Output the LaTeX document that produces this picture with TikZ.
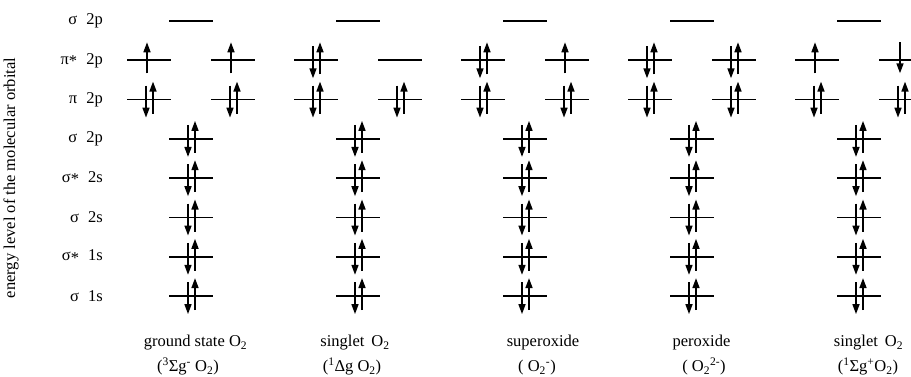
\documentclass[tikz,border=0pt]{standalone}
\usepackage{fontspec}
\setmainfont{Liberation Serif}
\usetikzlibrary{arrows.meta}
\newcommand{\orbempty}[2]{\draw[lvl] (#1-22,#2) -- (#1+22,#2);}
\newcommand{\orbpair}[2]{\draw[lvl] (#1-22,#2) -- (#1+22,#2);
  \draw[spin] (#1-3,#2-14) -- (#1-3,#2+18);
  \draw[spin] (#1+4,#2+14) -- (#1+4,#2-18);}
\newcommand{\orbup}[2]{\draw[lvl] (#1-22,#2) -- (#1+22,#2);
  \draw[spin] (#1-2,#2+13) -- (#1-2,#2-18);}
\newcommand{\orbdown}[2]{\draw[lvl] (#1-22,#2) -- (#1+22,#2);
  \draw[spin] (#1-1,#2-18) -- (#1-1,#2+13);}
\newcommand{\mystar}{\raisebox{-0.35ex}{*}}
\newcommand{\gap}{\hspace{0.55em}}
\begin{document}
\begin{tikzpicture}[x=1pt,y=-1pt,
  lvl/.style={line width=1.7pt},
  spin/.style={line width=1.6pt,-{Triangle[width=7pt,length=10pt]}},
  lab/.style={font=\fontsize{16.5}{19}\selectfont,inner sep=0pt},
  rowlab/.style={lab,anchor=east},
  mollab/.style={lab,anchor=base}]
\useasboundingbox (0,0) rectangle (911,376);
% row labels
\node[rowlab] (r1) at (103,21) {σ\gap 2p};
\node[rowlab] (r2) at (103,60.3) {π\mystar\gap 2p};
\node[rowlab] (r3) at (103,99.6) {π\gap 2p};
\node[rowlab] (r4) at (103,138.9) {σ\gap 2p};
\node[rowlab] (r5) at (103,178.2) {σ\mystar\gap 2s};
\node[rowlab] (r6) at (103,217.5) {σ\gap 2s};
\node[rowlab] (r7) at (103,256.8) {σ\mystar\gap 1s};
\node[rowlab] (r8) at (103,296.1) {σ\gap 1s};
\node[lab,rotate=90] (ax) at (11,178) {energy level of the molecular orbital};
% common orbitals for all five species
\foreach \c in {191,358,525,692,859}{
  \orbempty{\c}{21}
  \orbpair{\c-42}{99.6}
  \orbpair{\c+42}{99.6}
  \orbpair{\c}{138.9}
  \orbpair{\c}{178.2}
  \orbpair{\c}{217.5}
  \orbpair{\c}{256.8}
  \orbpair{\c}{296.1}
}
% pi* 2p occupations
\orbup{149}{60.3}   \orbup{233}{60.3}
\orbpair{316}{60.3} \orbempty{400}{60.3}
\orbpair{483}{60.3} \orbup{567}{60.3}
\orbpair{650}{60.3} \orbpair{734}{60.3}
\orbup{817}{60.3}   \orbdown{901}{60.3}
% species labels
\node[mollab] (m1a) at (195.5,346.5) {ground state O\textsubscript{2}};
\node[mollab] (m1b) at (188,371.5) {(\textsuperscript{3}Σg\textsuperscript{-} O\textsubscript{2})};
\node[mollab] (m2a) at (355,346.5) {singlet\, O\textsubscript{2}};
\node[mollab] (m2b) at (352,371.5) {(\textsuperscript{1}Δg O\textsubscript{2})};
\node[mollab] (m3a) at (543,346.5) {superoxide};
\node[mollab] (m3b) at (537,371.5) {( O\textsubscript{2}\textsuperscript{-})};
\node[mollab] (m4a) at (701.5,346.5) {peroxide};
\node[mollab] (m4b) at (704,371.5) {( O\textsubscript{2}\textsuperscript{2-})};
\node[mollab] (m5a) at (868.5,346.5) {singlet\, O\textsubscript{2}};
\node[mollab] (m5b) at (868,371.5) {(\textsuperscript{1}Σg\textsuperscript{+}O\textsubscript{2})};
\end{tikzpicture}
\end{document}
